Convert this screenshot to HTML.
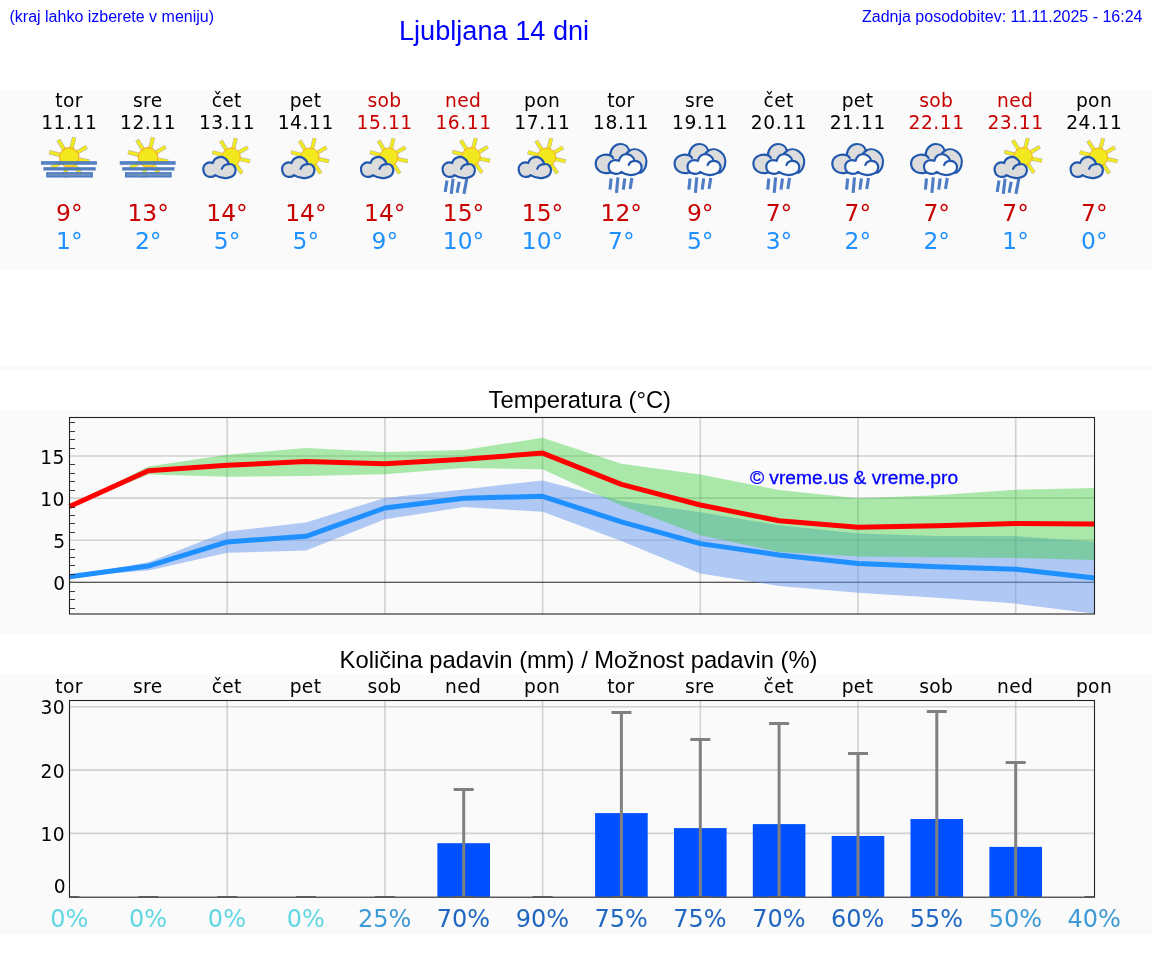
<!DOCTYPE html>
<html lang="sl"><head><meta charset="utf-8"><title>Ljubljana 14 dni</title>
<style>
html,body{margin:0;padding:0;background:#fff;}
body{width:1152px;height:975px;overflow:hidden;position:relative;}
svg{position:absolute;left:0;top:0;display:block;will-change:transform;}
.lib{font-family:"Liberation Sans",Arial,sans-serif;}
.dv{font-family:"DejaVu Sans","Liberation Sans",sans-serif;}
.hd{font-size:16px;fill:#0000ff;}
.ttl{font-size:27.15px;fill:#0000ff;}
.ct{font-size:23.75px;fill:#000;}
.lb{font-size:18.67px;fill:#000;letter-spacing:.35px;}
.dt{letter-spacing:.55px;}
.we{fill:#c80000;}
.tx{font-size:23.4px;fill:#c80000;}
.tn{font-size:23.4px;fill:#1e90ff;}
.pc{font-size:24px;}
.grid{stroke:#b0b0b0;stroke-opacity:.55;stroke-width:1.6;fill:none;}
.spine{stroke:#222;stroke-width:1.1;fill:none;}
.tick{stroke:#222;stroke-width:.9;fill:none;}
</style></head><body>
<svg width="1152" height="975" viewBox="0 0 1152 975">
<defs>
<g id="sun">
 <path d="M8.80 1.87 L19.07 4.05 M5.03 7.46 L10.90 16.17 M-2.18 8.73 L-4.72 18.92 M-7.71 4.64 L-16.71 10.04 M-8.69 -2.33 L-18.84 -5.05 M-4.77 -7.63 L-10.33 -16.54 M2.18 -8.73 L4.72 -18.92 M7.71 -4.64 L16.71 -10.04" stroke="#85856e" stroke-opacity=".6" stroke-width="4.1" fill="none"/>
 <path d="M8.31 1.77 L18.68 3.97 M4.75 7.05 L10.68 15.83 M-2.06 8.25 L-4.62 18.53 M-7.29 4.38 L-16.37 9.84 M-8.21 -2.20 L-18.45 -4.94 M-4.50 -7.21 L-10.12 -16.20 M2.06 -8.25 L4.62 -18.53 M7.29 -4.38 L16.37 -9.84" stroke="#f2ea1c" stroke-width="3" fill="none"/>
 <circle r="9.2" fill="#f1e91d" stroke="#f7a928" stroke-width="1"/>
</g>
<path id="cl" d="M13 19.5 C10 22.5 3 22.1 1.4 15.8 C-0.2 10.2 4.6 5.2 10.6 7.4 C12.2 1.6 19 -0.4 23.4 3.2 C25.6 5 26.4 7.2 26.2 8.6 C30.6 7.6 34.2 11.4 33.2 16.2 C31.8 22.8 20.8 24.6 13 19.5 Z"/>
<path id="curl" d="M19.6 13.2 C20.6 10.4 23.4 8.8 26.6 8.6"/>
<g id="cloudS">
 <use href="#cl" fill="#dcdcdc" stroke="#2158ad" stroke-width="2.2" stroke-linejoin="round"/>
 <use href="#curl" fill="none" stroke="#2158ad" stroke-width="2.2" stroke-linecap="round"/>
</g>
<g id="rainA" stroke="#3f72c0" stroke-width="3.1" stroke-opacity=".92" fill="none">
 <path d="M23.3 50.6 L21.5 62.1 M29.4 48.8 L27.6 63.9 M35.5 51.7 L33.4 62.8 M43.1 48.8 L40.2 63.9"/>
</g>
<g id="rainB" stroke="#3f72c0" stroke-width="3.1" stroke-opacity=".92" fill="none">
 <path d="M29.7 48.5 L28.6 59.6 M36.5 47.4 L35.1 62.8 M43.4 48.5 L41.9 59.6 M50.5 48.1 L48.7 58.9"/>
</g>
<g id="fog">
 <use href="#sun" transform="translate(39.7 27.4) scale(1.06)"/>
 <g fill="#4a79be">
  <rect x="11.5" y="31.1" width="55.9" height="3.7" fill-opacity=".93"/>
  <rect x="13.9" y="37.2" width="52.3" height="3.3" fill-opacity=".97"/>
  <rect x="16.7" y="42.1" width="46.7" height="5.4"/>
  <rect x="18.2" y="43.4" width="43.7" height="2.8" fill="#6a8dc0"/>
 </g>
</g>
<g id="pc">
 <use href="#sun" x="43.9" y="27.2"/>
 <use href="#cloudS" x="15" y="25.6"/>
</g>
<g id="pcr">
 <use href="#sun" x="47.4" y="26.8"/>
 <use href="#cloudS" x="17.8" y="25.6"/>
 <use href="#rainA"/>
</g>
<g id="ocr"><g stroke="#2158ad" stroke-width="2.2" stroke-linejoin="round" stroke-linecap="round">
 <path d="M28.3 42.6 C22 44.6 14.3 41 14.3 33.6 C14.3 27 21.5 23 28.8 25.2 C29 18.5 34 14 38.8 14 C43.5 14 47 17 47.8 20.8 C51 18.6 56 18.6 60 21.6 C64 24.6 66 30 64.6 35.2 C63.6 39 61.5 41.5 59.5 42.6 Z" fill="#dcdcdc"/>
 <path d="M28.8 25.2 C30.2 25.8 31.2 26.8 31.8 28 M47.8 20.8 C47.4 21.6 46.4 22.4 45.4 22.8" fill="none"/>
 <path d="M39.8 41.9 C37 44.8 29 44.8 27.4 38.5 C26.2 32.6 31 28.6 37.6 30.8 C38.5 26 42.5 23.6 46 24.2 C50 24.8 53 28 53.2 30.8 C57.5 30.6 60.6 34 60.2 38 C59.6 44.6 48 47.8 39.8 41.9 Z" fill="#fbfbfb"/>
 <path d="M47.3 35 C48.2 32.4 50.6 30.9 53.2 30.8" fill="none"/>
 </g>
 <use href="#rainB"/>
</g>
</defs>
<rect x="0" y="90" width="1152" height="180" fill="#fafafa"/>
<rect x="0" y="365" width="1152" height="5" fill="#fafafa"/>
<rect x="0" y="410" width="1152" height="225" fill="#fafafa"/>
<rect x="0" y="675" width="1152" height="260" fill="#fafafa"/>
<text class="lib hd" x="9.5" y="22">(kraj lahko izberete v meniju)</text>
<text class="lib ttl" x="399.0" y="39.6">Ljubljana 14 dni</text>
<text class="lib hd" x="1142.5" y="22" text-anchor="end">Zadnja posodobitev: 11.11.2025 - 16:24</text>
<text class="dv lb" x="69.0" y="106.7" text-anchor="middle">tor</text>
<text class="dv lb dt" x="69.3" y="128.9" text-anchor="middle">11.11</text>
<use href="#fog" x="29.5" y="130"/>
<text class="dv tx" x="69.4" y="220.8" text-anchor="middle">9°</text>
<text class="dv tn" x="69.4" y="249.2" text-anchor="middle">1°</text>
<text class="dv lb" x="147.8" y="106.7" text-anchor="middle">sre</text>
<text class="dv lb dt" x="148.1" y="128.9" text-anchor="middle">12.11</text>
<use href="#fog" x="108.3" y="130"/>
<text class="dv tx" x="148.2" y="220.8" text-anchor="middle">13°</text>
<text class="dv tn" x="148.2" y="249.2" text-anchor="middle">2°</text>
<text class="dv lb" x="226.7" y="106.7" text-anchor="middle">čet</text>
<text class="dv lb dt" x="227.0" y="128.9" text-anchor="middle">13.11</text>
<use href="#pc" x="187.2" y="130"/>
<text class="dv tx" x="227.1" y="220.8" text-anchor="middle">14°</text>
<text class="dv tn" x="227.1" y="249.2" text-anchor="middle">5°</text>
<text class="dv lb" x="305.5" y="106.7" text-anchor="middle">pet</text>
<text class="dv lb dt" x="305.8" y="128.9" text-anchor="middle">14.11</text>
<use href="#pc" x="266.0" y="130"/>
<text class="dv tx" x="305.9" y="220.8" text-anchor="middle">14°</text>
<text class="dv tn" x="305.9" y="249.2" text-anchor="middle">5°</text>
<text class="dv lb we" x="384.4" y="106.7" text-anchor="middle">sob</text>
<text class="dv lb we dt" x="384.7" y="128.9" text-anchor="middle">15.11</text>
<use href="#pc" x="344.9" y="130"/>
<text class="dv tx" x="384.8" y="220.8" text-anchor="middle">14°</text>
<text class="dv tn" x="384.8" y="249.2" text-anchor="middle">9°</text>
<text class="dv lb we" x="463.2" y="106.7" text-anchor="middle">ned</text>
<text class="dv lb we dt" x="463.5" y="128.9" text-anchor="middle">16.11</text>
<use href="#pcr" x="423.7" y="130"/>
<text class="dv tx" x="463.6" y="220.8" text-anchor="middle">15°</text>
<text class="dv tn" x="463.6" y="249.2" text-anchor="middle">10°</text>
<text class="dv lb" x="542.1" y="106.7" text-anchor="middle">pon</text>
<text class="dv lb dt" x="542.4" y="128.9" text-anchor="middle">17.11</text>
<use href="#pc" x="502.6" y="130"/>
<text class="dv tx" x="542.5" y="220.8" text-anchor="middle">15°</text>
<text class="dv tn" x="542.5" y="249.2" text-anchor="middle">10°</text>
<text class="dv lb" x="620.9" y="106.7" text-anchor="middle">tor</text>
<text class="dv lb dt" x="621.2" y="128.9" text-anchor="middle">18.11</text>
<use href="#ocr" x="581.4" y="130"/>
<text class="dv tx" x="621.3" y="220.8" text-anchor="middle">12°</text>
<text class="dv tn" x="621.3" y="249.2" text-anchor="middle">7°</text>
<text class="dv lb" x="699.8" y="106.7" text-anchor="middle">sre</text>
<text class="dv lb dt" x="700.1" y="128.9" text-anchor="middle">19.11</text>
<use href="#ocr" x="660.3" y="130"/>
<text class="dv tx" x="700.2" y="220.8" text-anchor="middle">9°</text>
<text class="dv tn" x="700.2" y="249.2" text-anchor="middle">5°</text>
<text class="dv lb" x="778.6" y="106.7" text-anchor="middle">čet</text>
<text class="dv lb dt" x="778.9" y="128.9" text-anchor="middle">20.11</text>
<use href="#ocr" x="739.1" y="130"/>
<text class="dv tx" x="779.0" y="220.8" text-anchor="middle">7°</text>
<text class="dv tn" x="779.0" y="249.2" text-anchor="middle">3°</text>
<text class="dv lb" x="857.5" y="106.7" text-anchor="middle">pet</text>
<text class="dv lb dt" x="857.8" y="128.9" text-anchor="middle">21.11</text>
<use href="#ocr" x="818.0" y="130"/>
<text class="dv tx" x="857.9" y="220.8" text-anchor="middle">7°</text>
<text class="dv tn" x="857.9" y="249.2" text-anchor="middle">2°</text>
<text class="dv lb we" x="936.3" y="106.7" text-anchor="middle">sob</text>
<text class="dv lb we dt" x="936.6" y="128.9" text-anchor="middle">22.11</text>
<use href="#ocr" x="896.8" y="130"/>
<text class="dv tx" x="936.7" y="220.8" text-anchor="middle">7°</text>
<text class="dv tn" x="936.7" y="249.2" text-anchor="middle">2°</text>
<text class="dv lb we" x="1015.2" y="106.7" text-anchor="middle">ned</text>
<text class="dv lb we dt" x="1015.5" y="128.9" text-anchor="middle">23.11</text>
<use href="#pcr" x="975.7" y="130"/>
<text class="dv tx" x="1015.6" y="220.8" text-anchor="middle">7°</text>
<text class="dv tn" x="1015.6" y="249.2" text-anchor="middle">1°</text>
<text class="dv lb" x="1094.0" y="106.7" text-anchor="middle">pon</text>
<text class="dv lb dt" x="1094.3" y="128.9" text-anchor="middle">24.11</text>
<use href="#pc" x="1054.5" y="130"/>
<text class="dv tx" x="1094.4" y="220.8" text-anchor="middle">7°</text>
<text class="dv tn" x="1094.4" y="249.2" text-anchor="middle">0°</text>
<text class="lib ct" x="579.8" y="407.9" text-anchor="middle">Temperatura (°C)</text>
<g>
<line class="grid" x1="227.2" y1="417.5" x2="227.2" y2="614.0"/>
<line class="grid" x1="384.9" y1="417.5" x2="384.9" y2="614.0"/>
<line class="grid" x1="542.6" y1="417.5" x2="542.6" y2="614.0"/>
<line class="grid" x1="700.3" y1="417.5" x2="700.3" y2="614.0"/>
<line class="grid" x1="858.0" y1="417.5" x2="858.0" y2="614.0"/>
<line class="grid" x1="1015.7" y1="417.5" x2="1015.7" y2="614.0"/>
<line class="grid" x1="69.5" y1="540.2" x2="1094.5" y2="540.2"/>
<line class="grid" x1="69.5" y1="498.1" x2="1094.5" y2="498.1"/>
<line class="grid" x1="69.5" y1="456.0" x2="1094.5" y2="456.0"/>
<line x1="69.5" y1="582.3" x2="1094.5" y2="582.3" stroke="#222" stroke-width="1.1"/>
<polygon points="69.5,576.7 148.3,562.3 227.2,531.6 306.0,522.4 384.9,497.9 463.7,489.4 542.6,480.4 621.4,500.9 700.3,512.3 779.1,525.3 858.0,533.5 936.8,536.0 1015.7,536.2 1094.5,541.7 1094.5,613.7 1015.7,603.6 936.8,597.7 858.0,592.8 779.1,585.9 700.3,573.5 621.4,541.0 542.6,511.8 463.7,507.1 384.9,519.3 306.0,550.5 227.2,552.8 148.3,570.5 69.5,576.7" fill="#6495ed" fill-opacity=".5"/>
<polygon points="69.5,506.5 148.3,466.6 227.2,454.8 306.0,448.0 384.9,451.9 463.7,450.1 542.6,437.7 621.4,463.7 700.3,474.6 779.1,490.0 858.0,498.2 936.8,495.3 1015.7,489.8 1094.5,488.1 1094.5,559.9 1015.7,557.9 936.8,557.2 858.0,556.6 779.1,552.0 700.3,535.2 621.4,505.5 542.6,469.3 463.7,468.1 384.9,474.3 306.0,476.0 227.2,476.7 148.3,474.6 69.5,506.5" fill="#32cd32" fill-opacity=".4"/>
<polyline points="69.5,576.7 148.3,566.1 227.2,541.9 306.0,536.3 384.9,508.0 463.7,498.2 542.6,496.3 621.4,521.8 700.3,543.6 779.1,555.0 858.0,563.6 936.8,566.7 1015.7,569.3 1094.5,578.0" fill="none" stroke="#1e90ff" stroke-width="5" stroke-linejoin="round"/>
<polyline points="69.5,506.5 148.3,470.8 227.2,465.2 306.0,461.6 384.9,463.7 463.7,459.3 542.6,453.1 621.4,484.4 700.3,505.0 779.1,520.8 858.0,527.2 936.8,525.7 1015.7,523.4 1094.5,524.0" fill="none" stroke="#ff0000" stroke-width="5" stroke-linejoin="round"/>
<line class="tick" x1="69.5" y1="608.5" x2="75.0" y2="608.5"/>
<line class="tick" x1="69.5" y1="599.5" x2="75.0" y2="599.5"/>
<line class="tick" x1="69.5" y1="591.5" x2="75.0" y2="591.5"/>
<line class="tick" x1="69.5" y1="574.5" x2="75.0" y2="574.5"/>
<line class="tick" x1="69.5" y1="565.5" x2="75.0" y2="565.5"/>
<line class="tick" x1="69.5" y1="557.5" x2="75.0" y2="557.5"/>
<line class="tick" x1="69.5" y1="549.5" x2="75.0" y2="549.5"/>
<line class="tick" x1="69.5" y1="532.5" x2="75.0" y2="532.5"/>
<line class="tick" x1="69.5" y1="523.5" x2="75.0" y2="523.5"/>
<line class="tick" x1="69.5" y1="515.5" x2="75.0" y2="515.5"/>
<line class="tick" x1="69.5" y1="507.5" x2="75.0" y2="507.5"/>
<line class="tick" x1="69.5" y1="490.5" x2="75.0" y2="490.5"/>
<line class="tick" x1="69.5" y1="481.5" x2="75.0" y2="481.5"/>
<line class="tick" x1="69.5" y1="473.5" x2="75.0" y2="473.5"/>
<line class="tick" x1="69.5" y1="464.5" x2="75.0" y2="464.5"/>
<line class="tick" x1="69.5" y1="448.5" x2="75.0" y2="448.5"/>
<line class="tick" x1="69.5" y1="439.5" x2="75.0" y2="439.5"/>
<line class="tick" x1="69.5" y1="431.5" x2="75.0" y2="431.5"/>
<line class="tick" x1="69.5" y1="422.5" x2="75.0" y2="422.5"/>
<rect class="spine" x="69.5" y="417.5" width="1025.0" height="196.5"/>
<text class="dv lb" x="65.6" y="590.4" text-anchor="end">0</text>
<text class="dv lb" x="65.6" y="548.3" text-anchor="end">5</text>
<text class="dv lb" x="64.7" y="506.2" text-anchor="end">10</text>
<text class="dv lb" x="64.7" y="464.1" text-anchor="end">15</text>
<text class="lib" x="854" y="484" text-anchor="middle" font-size="19.2" fill="#0000ff" stroke="#0000ff" stroke-width=".3">© vreme.us &amp; vreme.pro</text>
</g>
<text class="lib ct" x="578.5" y="668" text-anchor="middle">Količina padavin (mm) / Možnost padavin (%)</text>
<text class="dv lb" x="69.0" y="693" text-anchor="middle">tor</text>
<text class="dv lb" x="147.8" y="693" text-anchor="middle">sre</text>
<text class="dv lb" x="226.7" y="693" text-anchor="middle">čet</text>
<text class="dv lb" x="305.5" y="693" text-anchor="middle">pet</text>
<text class="dv lb" x="384.4" y="693" text-anchor="middle">sob</text>
<text class="dv lb" x="463.2" y="693" text-anchor="middle">ned</text>
<text class="dv lb" x="542.1" y="693" text-anchor="middle">pon</text>
<text class="dv lb" x="620.9" y="693" text-anchor="middle">tor</text>
<text class="dv lb" x="699.8" y="693" text-anchor="middle">sre</text>
<text class="dv lb" x="778.6" y="693" text-anchor="middle">čet</text>
<text class="dv lb" x="857.5" y="693" text-anchor="middle">pet</text>
<text class="dv lb" x="936.3" y="693" text-anchor="middle">sob</text>
<text class="dv lb" x="1015.2" y="693" text-anchor="middle">ned</text>
<text class="dv lb" x="1094.0" y="693" text-anchor="middle">pon</text>
<g>
<line class="grid" x1="227.2" y1="700.5" x2="227.2" y2="897.2"/>
<line class="grid" x1="384.9" y1="700.5" x2="384.9" y2="897.2"/>
<line class="grid" x1="542.6" y1="700.5" x2="542.6" y2="897.2"/>
<line class="grid" x1="700.3" y1="700.5" x2="700.3" y2="897.2"/>
<line class="grid" x1="858.0" y1="700.5" x2="858.0" y2="897.2"/>
<line class="grid" x1="1015.7" y1="700.5" x2="1015.7" y2="897.2"/>
<line class="grid" x1="69.5" y1="833.4" x2="1094.5" y2="833.4"/>
<line class="grid" x1="69.5" y1="770.1" x2="1094.5" y2="770.1"/>
<line class="grid" x1="69.5" y1="706.8" x2="1094.5" y2="706.8"/>
<rect x="437.4" y="843.2" width="52.6" height="53.6" fill="#0050ff"/>
<rect x="595.1" y="813.1" width="52.6" height="83.7" fill="#0050ff"/>
<rect x="674.0" y="828.1" width="52.6" height="68.7" fill="#0050ff"/>
<rect x="752.8" y="824.1" width="52.6" height="72.7" fill="#0050ff"/>
<rect x="831.7" y="836.0" width="52.6" height="60.8" fill="#0050ff"/>
<rect x="910.5" y="819.0" width="52.6" height="77.8" fill="#0050ff"/>
<rect x="989.4" y="846.9" width="52.6" height="49.9" fill="#0050ff"/>
<g stroke="#808080" stroke-width="3" fill="none">
<path d="M69.5 896.5 H79.5" stroke-width="1"/>
<path d="M138.3 896.5 H158.3" stroke-width="1"/>
<path d="M217.2 896.5 H237.2" stroke-width="1"/>
<path d="M296.0 896.5 H316.0" stroke-width="1"/>
<path d="M374.9 896.5 H394.9" stroke-width="1"/>
<path d="M463.7 896.8 V789.4 M453.7 789.4 H473.7"/>
<path d="M453.7 896.5 H473.7" stroke-width="1"/>
<path d="M532.6 896.5 H552.6" stroke-width="1"/>
<path d="M621.4 896.8 V712.4 M611.4 712.4 H631.4"/>
<path d="M611.4 896.5 H631.4" stroke-width="1"/>
<path d="M700.3 896.8 V739.6 M690.3 739.6 H710.3"/>
<path d="M690.3 896.5 H710.3" stroke-width="1"/>
<path d="M779.1 896.8 V723.6 M769.1 723.6 H789.1"/>
<path d="M769.1 896.5 H789.1" stroke-width="1"/>
<path d="M858.0 896.8 V753.5 M848.0 753.5 H868.0"/>
<path d="M848.0 896.5 H868.0" stroke-width="1"/>
<path d="M936.8 896.8 V711.4 M926.8 711.4 H946.8"/>
<path d="M926.8 896.5 H946.8" stroke-width="1"/>
<path d="M1015.7 896.8 V762.4 M1005.7 762.4 H1025.7"/>
<path d="M1005.7 896.5 H1025.7" stroke-width="1"/>
<path d="M1084.5 896.5 H1094.5" stroke-width="1"/>
</g>
<rect class="spine" x="69.5" y="700.5" width="1025.0" height="196.70000000000005"/>
<text class="dv lb" x="65.0" y="714.1" text-anchor="end">30</text>
<text class="dv lb" x="65.0" y="777.8" text-anchor="end">20</text>
<text class="dv lb" x="65.0" y="841.0" text-anchor="end">10</text>
<text class="dv lb" x="66.0" y="893.4" text-anchor="end">0</text>
<text class="dv pc" x="69.2" y="926.9" text-anchor="middle" fill="#5fd7e3">0%</text>
<text class="dv pc" x="148.0" y="926.9" text-anchor="middle" fill="#5fd7e3">0%</text>
<text class="dv pc" x="226.9" y="926.9" text-anchor="middle" fill="#5fd7e3">0%</text>
<text class="dv pc" x="305.7" y="926.9" text-anchor="middle" fill="#5fd7e3">0%</text>
<text class="dv pc" x="384.6" y="926.9" text-anchor="middle" fill="#3d9ad6">25%</text>
<text class="dv pc" x="463.4" y="926.9" text-anchor="middle" fill="#1f66c0">70%</text>
<text class="dv pc" x="542.3" y="926.9" text-anchor="middle" fill="#1f66c0">90%</text>
<text class="dv pc" x="621.1" y="926.9" text-anchor="middle" fill="#1f66c0">75%</text>
<text class="dv pc" x="700.0" y="926.9" text-anchor="middle" fill="#1f66c0">75%</text>
<text class="dv pc" x="778.8" y="926.9" text-anchor="middle" fill="#1f66c0">70%</text>
<text class="dv pc" x="857.7" y="926.9" text-anchor="middle" fill="#1f66c0">60%</text>
<text class="dv pc" x="936.5" y="926.9" text-anchor="middle" fill="#1f66c0">55%</text>
<text class="dv pc" x="1015.4" y="926.9" text-anchor="middle" fill="#3d9ad6">50%</text>
<text class="dv pc" x="1094.2" y="926.9" text-anchor="middle" fill="#3d9ad6">40%</text>
</g>
</svg></body></html>
